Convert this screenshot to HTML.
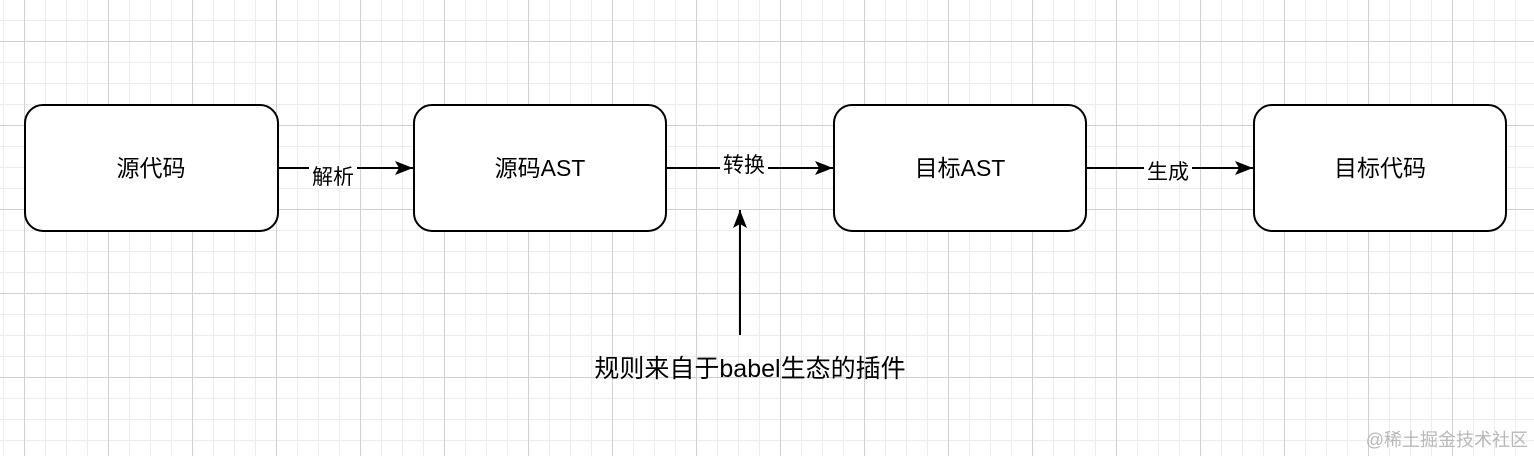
<!DOCTYPE html>
<html><head><meta charset="utf-8"><style>
body{margin:0;width:1534px;height:456px;overflow:hidden;background:#fff;
background-image:
linear-gradient(#d0d0d0 1px,transparent 1px),linear-gradient(90deg,#d0d0d0 1px,transparent 1px),
linear-gradient(#ececec 1px,transparent 1px),linear-gradient(90deg,#ececec 1px,transparent 1px);
background-size:84px 84px,84px 84px,21px 21px,21px 21px;
background-position:0 41px,24px 0,0 20px,3px 0;
font-family:"Liberation Sans","Noto Sans CJK SC",sans-serif;}
</style></head><body>
<svg width="1534" height="456" style="position:absolute;left:0;top:0" font-family="Liberation Sans, Noto Sans CJK SC, sans-serif">
<defs><marker id="a" markerWidth="20" markerHeight="16" refX="18" refY="8" orient="auto" markerUnits="userSpaceOnUse"><path d="M0,1 L18,8 L0,15 L4,8 z" fill="#000"/></marker></defs>
<g fill="#fff" stroke="#000" stroke-width="2">
<rect x="25" y="105" width="253" height="126" rx="18"/>
<rect x="414" y="105" width="252" height="126" rx="18"/>
<rect x="834" y="105" width="252" height="126" rx="18"/>
<rect x="1254" y="105" width="252" height="126" rx="18"/>
</g>
<g stroke="#000" stroke-width="2" marker-end="url(#a)">
<line x1="278" y1="168" x2="413" y2="168"/>
<line x1="666" y1="168" x2="833" y2="168"/>
<line x1="1086" y1="168" x2="1253" y2="168"/>
<line x1="740" y1="335" x2="740" y2="210"/>
</g>
<g font-size="23" text-anchor="middle" fill="#000">
<text x="151" y="176">源代码</text>
<text x="540" y="176">源码AST</text>
<text x="960" y="176">目标AST</text>
<text x="1380" y="176">目标代码</text>
</g>
<g font-size="21" text-anchor="middle">
<rect x="309" y="164" width="48" height="24" fill="#fff"/>
<text x="333" y="184">解析</text>
<rect x="720" y="153" width="48" height="24" fill="#fff"/>
<text x="744" y="172">转换</text>
<rect x="1144" y="160" width="48" height="24" fill="#fff"/>
<text x="1168" y="179">生成</text>
<text x="750" y="377" font-size="25">规则来自于babel生态的插件</text>
</g>
<text x="1528" y="446" font-size="18" fill="#b8b8b8" text-anchor="end">@稀土掘金技术社区</text>
</svg>
</body></html>
